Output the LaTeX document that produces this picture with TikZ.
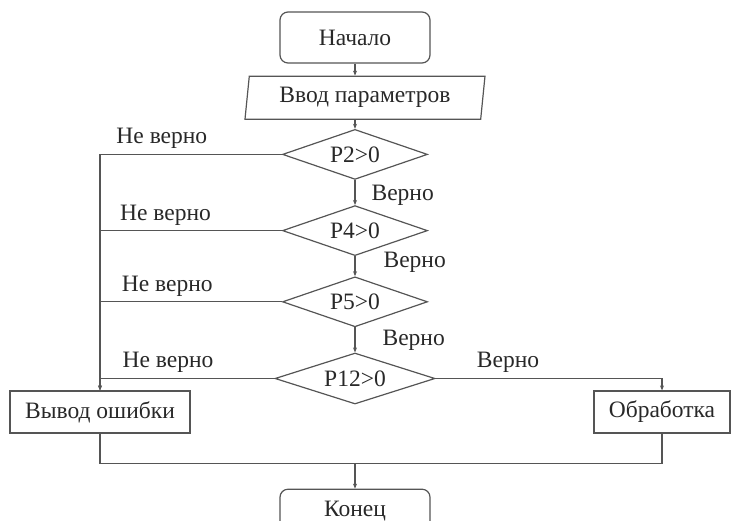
\documentclass[tikz,border=0pt]{standalone}
\usepackage{fontspec}
\setmainfont{Liberation Serif}
\usetikzlibrary{positioning}
\usetikzlibrary{arrows.meta}
\usetikzlibrary{shapes.geometric}

\definecolor{lineclr}{RGB}{85,85,85}
\definecolor{textclr}{RGB}{40,40,40}

\tikzset{
  base/.style={draw=lineclr, line width=1.2pt, text=textclr, font=\fontsize{23.5}{27}\selectfont, inner sep=2pt},
  termbox/.style={base, rounded corners=8pt, minimum width=150pt, minimum height=51pt},
  iobox/.style={base, trapezium, trapezium left angle=80, trapezium right angle=100, trapezium stretches body, minimum width=240pt, minimum height=43pt},
  decision/.style={base, diamond, aspect=3, inner sep=0pt, minimum width=145pt, minimum height=50pt},
  procbox/.style={base, minimum height=42pt},
  lbl/.style={text=textclr, font=\fontsize{23.5}{27}\selectfont, inner sep=2pt},
  ln/.style={draw=lineclr, line width=1.2pt},
  arr/.style={ln, -{Stealth[length=5pt, width=4pt]}}
}

\begin{document}
\begin{tikzpicture}[x=1pt, y=1pt]
    \useasboundingbox (0,0) rectangle (735,-521);
    \clip (0,0) rectangle (735,-521);

    \node[termbox] (start) at (355,-37.5) {Начало};
    \node[iobox, below=12pt of start, xshift=10pt] (params) {Ввод параметров};
    \node[decision, below=9pt of params, xshift=-10pt] (p2) {P2>0};
    \node[decision, below=25pt of p2] (p4) {P4>0};
    \node[decision, below=20pt of p4] (p5) {P5>0};
    \node[decision, below=25pt of p5, minimum width=160pt, minimum height=51pt] (p12) {P12>0};
    \node[procbox, minimum width=180pt] (err) at (100,-412) {Вывод ошибки};
    \node[procbox, minimum width=136pt] (proc) at (662,-412) {Обработка};
    \coordinate[below=59pt of p12] (merge);
    \node[termbox, below=84pt of p12, minimum height=44pt] (stop) {Конец};

    \draw[arr] (start.south) -- (start.south |- params.north);
    \draw[arr] (start.south |- params.south) -- (p2.north);
    \draw[arr] (p2.south) -- node[lbl, right, pos=0.6, xshift=14pt] {Верно} (p4.north);
    \draw[arr] (p4.south) -- node[lbl, right, pos=0.3, xshift=26pt] {Верно} (p5.north);
    \draw[arr] (p5.south) -- node[lbl, right, pos=0.52, xshift=25pt] {Верно} (p12.north);

    \draw[arr] (p2.west) -| node[lbl, above, pos=0.33, yshift=3pt] {Не верно} (err.north);
    \draw[ln] (p4.west) -- node[lbl, above, pos=0.64, yshift=3pt] {Не верно} (p4.west -| err.north);
    \draw[ln] (p5.west) -- node[lbl, above, pos=0.63, yshift=3pt] {Не верно} (p5.west -| err.north);
    \draw[arr] (p12.west) -| node[lbl, above, pos=0.305, yshift=3pt] {Не верно} (err.north);
    \draw[arr] (p12.east) -| node[lbl, above, pos=0.16, yshift=3pt] {Верно} (proc.north);

    \draw[ln] (err.south) |- (merge) -| (proc.south);
    \draw[arr] (merge) -- (stop.north);
  \end{tikzpicture}
\end{document}
